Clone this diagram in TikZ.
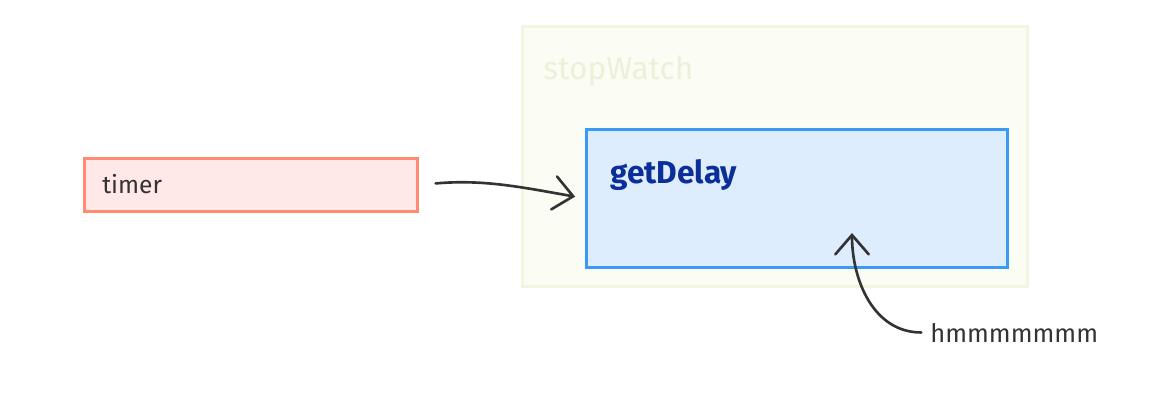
\documentclass[tikz,border=0pt]{standalone}
\usepackage{fontspec}
\setmainfont{Fira Sans}
\usetikzlibrary{arrows.meta,positioning}
\definecolor{watchfill}{HTML}{FBFDF4}
\definecolor{watchline}{HTML}{F1F6E0}
\definecolor{watchtext}{HTML}{EBF1D9}
\definecolor{funcfill}{HTML}{DDEDFD}
\definecolor{funcline}{HTML}{3A9BF5}
\definecolor{functext}{HTML}{0B2E98}
\definecolor{varfill}{HTML}{FFE8E5}
\definecolor{varline}{HTML}{FF8B72}
\definecolor{ink}{HTML}{333333}
\tikzset{
	scopebox/.style={
		draw=watchline, fill=watchfill, line width=1.6pt,
		rectangle, inner sep=0pt, anchor=north west
	},
	funcbox/.style={
		draw=funcline, fill=funcfill, line width=1.6pt,
		rectangle, inner sep=0pt, anchor=north west
	},
	varbox/.style={
		draw=varline, fill=varfill, line width=1.6pt,
		rectangle, inner sep=0pt, anchor=north west
	},
	boxtext/.style={anchor=base west, inner sep=0pt},
}

\begin{document}
\begin{tikzpicture}[
		x=0.02cm, y=0.02cm,
		link/.style={
			draw=ink, line width=1.5pt, line cap=round,
			-{Straight Barb[length=11pt,width=19pt,line cap=round]}
		}
		]
		\useasboundingbox (0,0) rectangle (1152,406);
		
		\node[scopebox, minimum width=10.1cm, minimum height=5.2cm] (watch) at (521,381) {};
		\node[boxtext, text=watchtext, font=\fontsize{18}{20}\selectfont] (watchlabel) at (543,326) {stopWatch};
		
		\node[funcbox, minimum width=8.42cm, minimum height=2.76cm] (delay) at (585,278) {};
		\node[boxtext, text=functext, font=\fontsize{18}{20}\selectfont\bfseries] (delaylabel) at (610,222) {getDelay};
		
		\node[varbox, minimum width=6.66cm, minimum height=1.06cm] (timer) at (83,249) {};
		\node[boxtext, text=ink, font=\fontsize{14}{16}\selectfont] (timerlabel) at (102,213) {timer};
		
		\node[boxtext, text=ink, font=\fontsize{14.5}{16}\selectfont] (hmm) at (930,64) {hmmmmmmm};
		\coordinate (spot) at (852,173);
		
		\draw[link, shorten <=0.34cm, shorten >=0.2cm] (timer.east) to[out=5, in=170] (delay.west);
		\draw[link] ([xshift=-5]hmm.west) to[out=180, in=270] (spot);
	\end{tikzpicture}
\end{document}
